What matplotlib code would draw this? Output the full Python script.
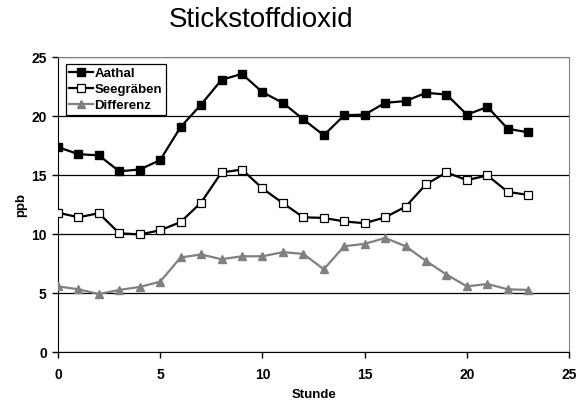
import matplotlib
matplotlib.use("Agg")
import matplotlib.pyplot as plt

DPI = 100

# Stundenmittel NO2 in ppb
stunde = list(range(24))
aathal = [17.4, 16.8, 16.7, 15.35, 15.5, 16.3, 19.1, 21.0, 23.1, 23.6, 22.05, 21.15,
          19.75, 18.4, 20.1, 20.15, 21.15, 21.3, 22.0, 21.85, 20.15, 20.8, 18.95, 18.65]
seegraeben = [11.85, 11.45, 11.8, 10.1, 10.0, 10.35, 11.05, 12.7, 15.25, 15.5, 13.9, 12.65,
              11.45, 11.4, 11.1, 10.95, 11.45, 12.35, 14.25, 15.25, 14.6, 15.0, 13.6, 13.35]
differenz = [5.6, 5.35, 4.95, 5.3, 5.55, 6.0, 8.05, 8.3, 7.9, 8.15, 8.15, 8.5,
             8.35, 7.05, 9.0, 9.2, 9.7, 9.0, 7.75, 6.6, 5.6, 5.8, 5.35, 5.3]

plt.rcParams['font.family'] = ['Liberation Sans', 'DejaVu Sans']

fig = plt.figure(figsize=(585/DPI, 407/DPI), dpi=DPI)
ax = fig.add_axes([0.099, 0.134, 0.874, 0.725])

ax.plot(stunde, aathal, color='black', lw=1.6, marker='s', ms=5.6,
        mfc='black', mec='black', label='Aathal', zorder=3)
ax.plot(stunde, seegraeben, color='black', lw=1.6, marker='s', ms=5.6,
        mfc='white', mec='black', mew=0.9, label='Seegräben', zorder=3)
ax.plot(stunde, differenz, color='#808080', lw=1.6, marker='^', ms=6.2,
        mfc='#808080', mec='#808080', label='Differenz', zorder=3)

ax.set_xlim(0, 25)
ax.set_ylim(0, 25)
ax.set_xticks(range(0, 26, 5))
ax.set_yticks(range(0, 26, 5))
ax.yaxis.grid(True, color='black', lw=0.9)
ax.set_axisbelow(True)

for s in ('top', 'right'):
    ax.spines[s].set_color('#808080')
for s in ('left', 'bottom'):
    ax.spines[s].set_color('black')

ax.tick_params(direction='out', length=4, width=1, labelsize=10)
ax.tick_params(axis='x', pad=7)
ax.tick_params(axis='y', pad=4)
for lbl in ax.get_xticklabels() + ax.get_yticklabels():
    lbl.set_fontweight('bold')

ax.set_xlabel('Stunde', fontsize=9.5, fontweight='bold', labelpad=5)
ax.set_ylabel('ppb', fontsize=9.5, fontweight='bold', labelpad=3)

fig.text(0.446, 0.952, 'Stickstoffdioxid', ha='center', va='center', fontsize=20)

leg = ax.legend(loc='upper left', bbox_to_anchor=(0.015, 0.977), frameon=True,
                fancybox=False, edgecolor='black', framealpha=1,
                prop={'weight': 'bold', 'size': 9.5}, handlelength=1.8,
                handletextpad=0.15, borderpad=0.25, labelspacing=0.3, borderaxespad=0.0)
leg.get_frame().set_linewidth(0.9)

plt.savefig('out.png', dpi=DPI)
plt.close()
